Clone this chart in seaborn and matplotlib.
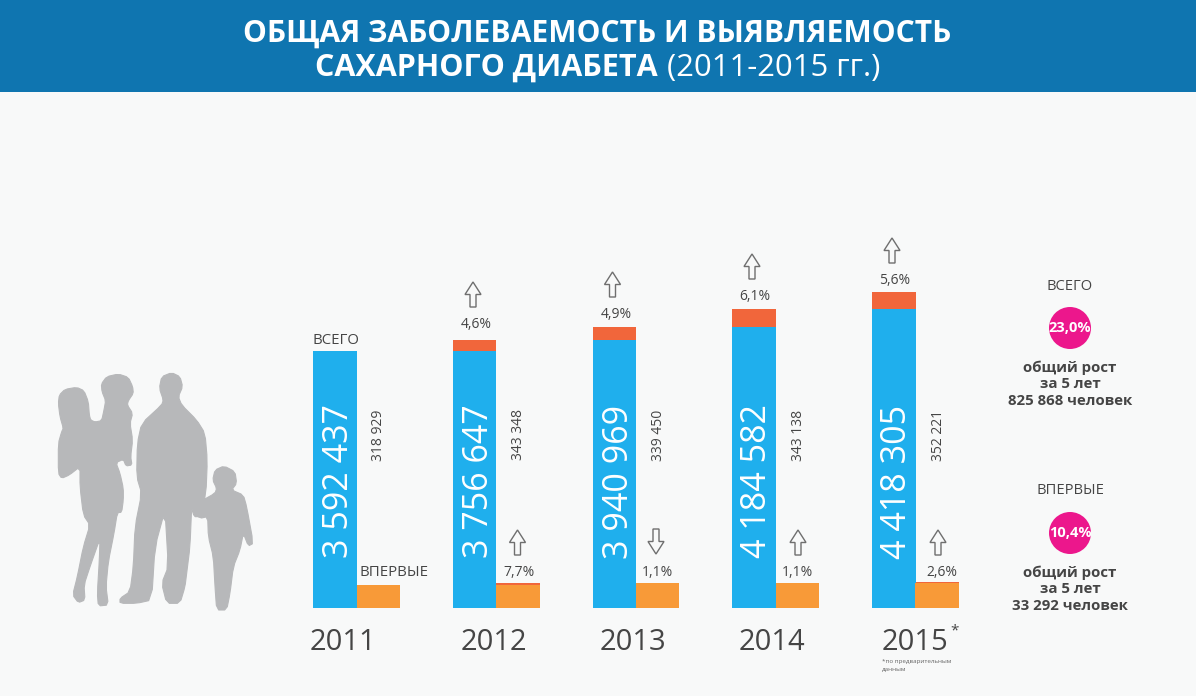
import matplotlib
matplotlib.use('Agg')
import matplotlib.pyplot as plt
from matplotlib.patches import Circle, Polygon, Rectangle
import pandas as pd
import seaborn as sns

# данные с картинки
years = ['2011', '2012', '2013', '2014', '2015']
total_cases = [3592437, 3756647, 3940969, 4184582, 4418305]
new_cases = [318929, 343348, 339450, 343138, 352221]
total_growth = ['4,6%', '4,9%', '6,1%', '5,6%']
new_growth = ['7,7%', '1,1%', '1,1%', '2,6%']
new_direction = ['up', 'down', 'up', 'up']

BG = '#f8f9f9'
BANNER = '#0f75b0'
BLUE = '#1fafed'
ORANGE = '#f89a38'
RED = '#f1663b'
PINK = '#ec178c'
TEXT = '#454545'
GRAY = '#b7b8ba'
FONT = ['Open Sans', 'DejaVu Sans']

sns.set_theme(style='white')
plt.rcParams['font.family'] = FONT

fig = plt.figure(figsize=(11.96, 6.96), dpi=100, facecolor=BG)

# столбцы: ось растянута так, что пиксели картинки совпадают со шкалой
BASE_Y = 607.5
STEP = 139.75
PX_PER_CASE = 7.13e-5
CENTER0 = 356.5
ax = fig.add_axes([0, (696 - BASE_Y) / 696, 1, BASE_Y / 696])
ax.patch.set_alpha(0)

rows = []
for i, year in enumerate(years):
    prev_total = total_cases[i - 1] if i > 0 else total_cases[0]
    prev_new = new_cases[i - 1] if i > 0 else new_cases[0]
    rows.append({'year': year, 'kind': 'total', 'top': total_cases[i], 'base': prev_total})
    rows.append({'year': year, 'kind': 'new', 'top': max(new_cases[i], prev_new),
                 'base': min(new_cases[i], prev_new)})
df = pd.DataFrame(rows)

# красная часть - прирост к прошлому году, поверх неё основание
sns.barplot(data=df, x='year', y='top', hue='kind', hue_order=['total', 'new'],
            palette={'total': RED, 'new': RED}, width=0.6225, gap=0, linewidth=0,
            saturation=1, legend=False, ax=ax)
sns.barplot(data=df, x='year', y='base', hue='kind', hue_order=['total', 'new'],
            palette={'total': BLUE, 'new': ORANGE}, width=0.6225, gap=0, linewidth=0,
            saturation=1, legend=False, ax=ax)
ax.set_xlim(-CENTER0 / STEP, (1196 - CENTER0) / STEP)
ax.set_ylim(0, BASE_Y / PX_PER_CASE)
ax.axis('off')

# всё остальное - в пикселях картинки
ov = fig.add_axes([0, 0, 1, 1])
ov.set_xlim(0, 1196)
ov.set_ylim(696, 0)
ov.axis('off')
ov.patch.set_alpha(0)


def fmt(n):
    return f'{n:,}'.replace(',', ' ')


def label(x, y, s, size, **kw):
    kw.setdefault('color', TEXT)
    ov.text(x, y, s, fontsize=size, ha=kw.pop('ha', 'center'), va='center', **kw)


def arrow(cx, top, bottom):
    # контурная стрелка, направление задаётся порядком top/bottom
    h = (bottom - top) * 0.5
    pts = [(cx, top), (cx + 8, top + h), (cx + 3, top + h), (cx + 3, bottom),
           (cx - 3, bottom), (cx - 3, top + h), (cx - 8, top + h)]
    ov.add_patch(Polygon(pts, closed=True, fill=False, ec='#6f6f6f', lw=1, joinstyle='miter'))


def smooth(pts, rounds=1):
    # сглаживание углов контура (Чайкин)
    for _ in range(rounds):
        out = []
        for (x0, y0), (x1, y1) in zip(pts, pts[1:] + pts[:1]):
            out.append((0.8 * x0 + 0.2 * x1, 0.8 * y0 + 0.2 * y1))
            out.append((0.2 * x0 + 0.8 * x1, 0.2 * y0 + 0.8 * y1))
        pts = out
    return pts


# шапка
ov.add_patch(Rectangle((0, 0), 1196, 92, fc=BANNER, ec='none'))
label(597, 34, 'ОБЩАЯ ЗАБОЛЕВАЕМОСТЬ И ВЫЯВЛЯЕМОСТЬ', 21.6, color='white', fontweight='bold')
label(658, 68, 'САХАРНОГО ДИАБЕТА', 22, color='white', fontweight='bold', ha='right')
label(667, 68, '(2011-2015 гг.)', 22.3, color='white', ha='left')

# подписи столбцов
blue_x = [339.5, 479.5, 619, 757.5, 897.5]
small_x = [379, 519, 659, 799, 939]
year_x = [342.5, 494, 633, 772, 915]
for i in range(len(years)):
    label(blue_x[i], 481.5, fmt(total_cases[i]), 24.5, color='white', rotation=90)
    label(small_x[i], 435, fmt(new_cases[i]), 10, rotation=90)
    label(year_x[i], 643, years[i], 21)

label(336, 341, 'ВСЕГО', 10.8)
label(394, 572, 'ВПЕРВЫЕ', 10.8)
label(955, 631, '*', 11)
label(882, 661, '*по предварительным', 4.5, ha='left', color='#666666')
label(882, 669, 'данным', 4.5, ha='left', color='#666666')

top_pct_xy = [(476, 325), (616, 315), (755, 297), (895, 281)]
top_arrow = [(473, 282), (612.5, 272), (752, 254), (892, 238)]
low_pct_xy = [(518.5, 573), (657, 573), (797, 573), (942, 573)]
low_arrow_x = [517.5, 656, 798, 938]
for i in range(4):
    label(*top_pct_xy[i], total_growth[i], 10)
    label(*low_pct_xy[i], new_growth[i], 10)
    arrow(top_arrow[i][0], top_arrow[i][1], top_arrow[i][1] + 25)
    if new_direction[i] == 'up':
        arrow(low_arrow_x[i], 530, 555)
    else:
        arrow(low_arrow_x[i], 554, 529)

# правая колонка
blocks = [(286, 'ВСЕГО', '23,0%', '825 868 человек'), (491, 'ВПЕРВЫЕ', '10,4%', '33 292 человек')]
for y, head, pct, people in blocks:
    label(1070, y, head, 10.6)
    ov.add_patch(Circle((1070, y + 42), 21, fc=PINK, ec='none'))
    label(1070, y + 42, pct, 10.5, color='white', fontweight='bold')
    label(1070, y + 82, 'общий рост', 10.8, fontweight='bold')
    label(1070, y + 98, 'за 5 лет', 10.8, fontweight='bold')
    label(1070, y + 115, people, 10.8, fontweight='bold')

# силуэт семьи
woman = [(58, 105), (75, 88), (110, 82), (132, 92), (145, 125), (148, 165), (152, 180), (165, 186),
         (185, 182), (192, 150), (197, 122), (186, 95), (184, 72), (200, 50), (235, 42), (265, 52),
         (278, 80), (280, 100), (265, 122), (262, 135), (278, 160), (270, 190), (278, 240), (272, 290),
         (276, 315), (258, 318), (250, 298), (228, 308), (240, 340), (250, 385), (250, 420), (245, 457),
         (232, 458), (222, 520), (205, 605), (198, 680), (205, 735), (175, 738), (172, 700), (178, 600),
         (180, 535), (150, 620), (132, 675), (135, 720), (115, 728), (98, 705), (112, 650), (130, 560),
         (150, 495), (130, 465), (120, 380), (120, 320), (88, 345), (65, 355), (55, 340), (55, 250),
         (65, 215), (70, 205), (60, 170), (55, 130)]
man = [(395, 38), (420, 50), (428, 80), (415, 110), (425, 135), (470, 180), (495, 220), (502, 300),
       (498, 400), (480, 470), (462, 470), (455, 440), (450, 560), (440, 640), (435, 680), (420, 730),
       (380, 730), (365, 670), (385, 620), (375, 450), (345, 560), (335, 720), (290, 730), (240, 730),
       (240, 715), (270, 695), (280, 620), (285, 500), (305, 400), (290, 350), (292, 250), (305, 190),
       (365, 135), (370, 120), (358, 85), (365, 50)]
boy = [(552, 318), (585, 335), (590, 370), (575, 390), (610, 405), (620, 440), (640, 550), (625, 558),
       (610, 520), (600, 570), (580, 620), (570, 700), (560, 750), (530, 750), (525, 680), (520, 590),
       (505, 530), (503, 470), (480, 475), (460, 455), (480, 425), (525, 400), (530, 385), (518, 360),
       (525, 330)]
for shape in (woman, man, boy):
    pts = [(40 + x / 3, 360 + y / 3) for x, y in smooth(shape)]
    ov.add_patch(Polygon(pts, closed=True, fc=GRAY, ec=GRAY, lw=0.8, joinstyle='round'))

fig.savefig('out.png', dpi=100, facecolor=BG)
